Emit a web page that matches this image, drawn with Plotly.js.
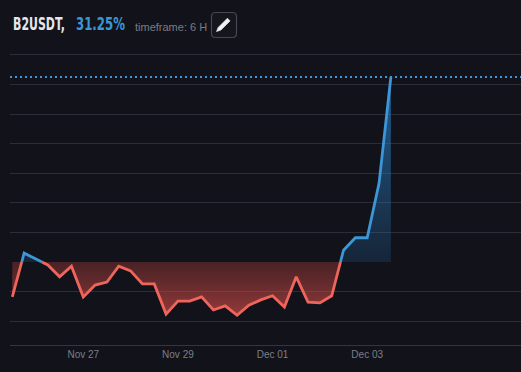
<!DOCTYPE html>
<html>
<head>
<meta charset="utf-8">
<script src="https://cdn.plot.ly/plotly-3.0.1.min.js"></script>
<style>
html,body{margin:0;padding:0;background:#12131a;}
#chart{width:521px;height:372px;}
</style>
</head>
<body>
<div id="chart"></div>
<script>
// ---- data (6H candles, % change from start) ----
var times = [
  "2024-11-25 12:00","2024-11-25 18:00",
  "2024-11-26 00:00","2024-11-26 06:00","2024-11-26 12:00","2024-11-26 18:00",
  "2024-11-27 00:00","2024-11-27 06:00","2024-11-27 12:00","2024-11-27 18:00",
  "2024-11-28 00:00","2024-11-28 06:00","2024-11-28 12:00","2024-11-28 18:00",
  "2024-11-29 00:00","2024-11-29 06:00","2024-11-29 12:00","2024-11-29 18:00",
  "2024-11-30 00:00","2024-11-30 06:00","2024-11-30 12:00","2024-11-30 18:00",
  "2024-12-01 00:00","2024-12-01 06:00","2024-12-01 12:00","2024-12-01 18:00",
  "2024-12-02 00:00","2024-12-02 06:00","2024-12-02 12:00","2024-12-02 18:00",
  "2024-12-03 00:00","2024-12-03 06:00","2024-12-03 12:00"
];
var changePct = [
  -5.9, 1.5, 0.5, -0.5, -2.5, -0.7,
  -5.9, -3.9, -3.4, -0.7, -1.5, -3.7,
  -3.7, -8.8, -6.6, -6.6, -5.9, -8.1,
  -7.4, -9.0, -7.3, -6.4, -5.7, -7.6,
  -2.5, -6.8, -6.9, -5.7, 2.0, 4.1,
  4.1, 13.3, 31.25
];
var symbol = "B2USDT";
var lastChange = 31.25;
var timeframe = "6 H";
var tickLabels = ["Nov 27", "Nov 29", "Dec 01", "Dec 03"];
var tickDates = ["2024-11-27", "2024-11-29", "2024-12-01", "2024-12-03"];

// ---- split into above / below baseline (0) with zero crossings ----
function toMs(s){ var p = s.split(/[- :]/); return Date.UTC(+p[0], +p[1]-1, +p[2], +(p[3]||0), +(p[4]||0)); }
var tms = times.map(toMs);
var upX = [], upY = [], dnX = [], dnY = [];
for (var i = 0; i < tms.length; i++) {
  var v = changePct[i];
  if (i > 0) {
    var pv = changePct[i-1];
    if ((pv < 0 && v > 0) || (pv > 0 && v < 0)) {
      var tc = tms[i-1] + (tms[i] - tms[i-1]) * pv / (pv - v);
      upX.push(tc); upY.push(0);
      dnX.push(tc); dnY.push(0);
      if (v > 0) { dnX.push(tc + 1); dnY.push(null); }
      else { upX.push(tc + 1); upY.push(null); }
    }
  }
  if (v >= 0) { upX.push(tms[i]); upY.push(v); }
  else { dnX.push(tms[i]); dnY.push(v); }
}

var BLUE = "#3d96d6", RED = "#f0655b";

var traces = [
  {
    x: dnX, y: dnY, type: "scatter", mode: "lines", connectgaps: false,
    line: {color: RED, width: 2.8}, fill: "tozeroy",
    fillgradient: {type: "vertical", start: -9.5, stop: 0,
      colorscale: [[0, "rgba(239,83,80,0.62)"], [1, "rgba(200,70,65,0.3)"]]},
    hoverinfo: "skip"
  },
  {
    x: upX, y: upY, type: "scatter", mode: "lines", connectgaps: false,
    line: {color: BLUE, width: 2.8}, fill: "tozeroy",
    fillgradient: {type: "vertical", start: 0, stop: 31.25,
      colorscale: [[0, "rgba(41,120,190,0.18)"], [1, "rgba(41,130,200,0.7)"]]},
    hoverinfo: "skip"
  }
];

function px(X){ return ((X-10)/511).toFixed(5); }
function py(Y){ return ((345-Y)/300).toFixed(5); }

var btnPath = (function(){
  var x0=211.5,x1=236.5,y0=12.5,y1=37.5,r=4;
  return "M"+px(x0+r)+","+py(y0)+" L"+px(x1-r)+","+py(y0)+" Q"+px(x1)+","+py(y0)+" "+px(x1)+","+py(y0+r)+
         " L"+px(x1)+","+py(y1-r)+" Q"+px(x1)+","+py(y1)+" "+px(x1-r)+","+py(y1)+
         " L"+px(x0+r)+","+py(y1)+" Q"+px(x0)+","+py(y1)+" "+px(x0)+","+py(y1-r)+
         " L"+px(x0)+","+py(y0+r)+" Q"+px(x0)+","+py(y0)+" "+px(x0+r)+","+py(y0)+" Z";
})();
var pencilPath = "M"+px(216.5)+","+py(31.5)+" L"+px(218.2)+","+py(27.4)+" L"+px(227.4)+","+py(18.2)+
                 " L"+px(230.1)+","+py(20.9)+" L"+px(220.9)+","+py(30.1)+" Z";

var TITLE_FONT = "DejaVu Sans, sans-serif";
// target widths (px) for the condensed header texts
var headerWidths = {};
headerWidths[symbol + ","] = 52;
headerWidths[lastChange.toFixed(2) + "%"] = 49;

var layout = {
  width: 521, height: 372,
  margin: {l: 10, r: 0, t: 45, b: 27},
  paper_bgcolor: "#12131a", plot_bgcolor: "#12131a",
  showlegend: false,
  xaxis: {
    type: "date",
    range: [Date.UTC(2024,10,25,10,50), Date.UTC(2024,11,6,6,0)],
    tickvals: tickDates.map(toMs), ticktext: tickLabels,
    showgrid: false, zeroline: false,
    showline: true, linecolor: "#34353e", linewidth: 1,
    ticks: "", tickfont: {family: "Liberation Sans, Arial, sans-serif", size: 10, color: "#7d7e88"},
    fixedrange: true
  },
  yaxis: {
    range: [-14.02, 36.66],
    tickvals: [-10, -5, 5, 10, 15, 20, 25, 30, 35],
    showticklabels: false, ticks: "",
    showgrid: true, gridcolor: "#2c2d36", gridwidth: 1,
    zeroline: false, showline: false, fixedrange: true
  },
  shapes: [
    {type: "line", xref: "paper", x0: 0, x1: 1, yref: "y", y0: lastChange, y1: lastChange,
     line: {color: BLUE, width: 2, dash: "2px,3px"}, layer: "above"},
    {type: "path", xref: "paper", yref: "paper", path: btnPath,
     line: {color: "#45464f", width: 1.2}, fillcolor: "#16171e"},
    {type: "path", xref: "paper", yref: "paper", path: pencilPath,
     line: {color: "#f2f2f4", width: 0.6}, fillcolor: "#f2f2f4"}
  ],
  annotations: [
    {text: symbol + ",", xref: "paper", yref: "paper",
     x: (11-10)/511, y: (345-24)/300, xanchor: "left", yanchor: "middle", showarrow: false,
     font: {family: TITLE_FONT, size: 18.5, weight: "bold", color: "#e6e6ea"}},
    {text: lastChange.toFixed(2) + "%", xref: "paper", yref: "paper",
     x: (74-10)/511, y: (345-24)/300, xanchor: "left", yanchor: "middle", showarrow: false,
     font: {family: TITLE_FONT, size: 18.5, weight: "bold", color: BLUE}},
    {text: "timeframe: " + timeframe, xref: "paper", yref: "paper",
     x: (133-10)/511, y: (345-27)/300, xanchor: "left", yanchor: "middle", showarrow: false,
     font: {family: "Liberation Sans, Arial, sans-serif", size: 11, color: "#7a7b84"}}
  ]
};

Plotly.newPlot("chart", traces, layout, {displayModeBar: false, staticPlot: true}).then(function(gd){
  // emulate a condensed bold face for the header texts
  var texts = gd.querySelectorAll(".annotation-text");
  texts.forEach(function(el){
    var t = el.textContent;
    if (headerWidths[t]) {
      var bb = el.getBBox();
      var s = headerWidths[t] / bb.width;
      el.setAttribute("transform", "translate(" + (bb.x * (1 - s)) + ",0) scale(" + s + ",1)");
    }
  });
});
</script>
</body>
</html>
